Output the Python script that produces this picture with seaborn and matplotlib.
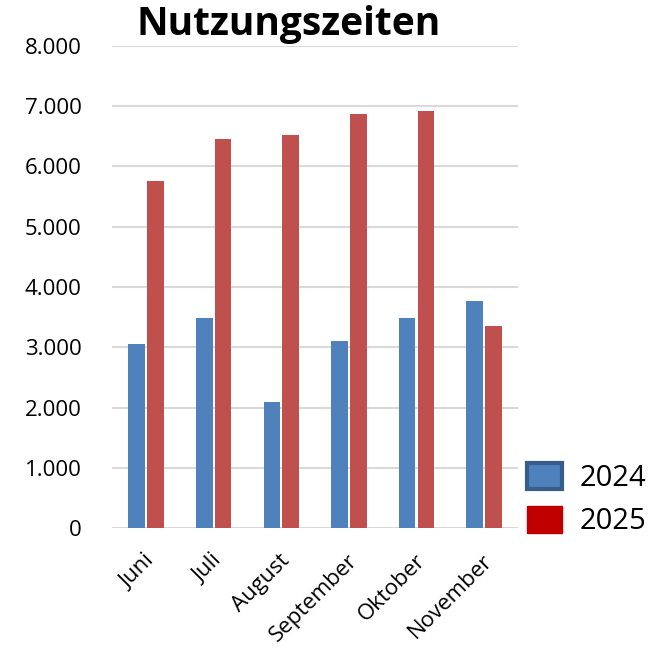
import numpy as np
import pandas as pd
import matplotlib.pyplot as plt
import matplotlib.ticker as mticker
from matplotlib.patches import Patch
from matplotlib.transforms import ScaledTranslation
import seaborn as sns

# Daten
monate = ["Juni", "Juli", "August", "September", "Oktober", "November"]
werte_2024 = [3050, 3490, 2090, 3100, 3490, 3770]
werte_2025 = [5760, 6460, 6520, 6870, 6920, 3350]
jahre = ["2024", "2025"]

df = pd.DataFrame({
    "Monat": monate * 2,
    "Wert": werte_2024 + werte_2025,
    "Jahr": [jahre[0]] * len(monate) + [jahre[1]] * len(monate),
})

sns.set_style("white")
plt.rcParams['font.family'] = ['Open Sans', 'DejaVu Sans']
plt.rcParams['text.color'] = 'black'
plt.rcParams['xtick.color'] = 'black'
plt.rcParams['ytick.color'] = 'black'

fig = plt.figure(figsize=(6.6, 6.56), dpi=100)
ax = fig.add_axes([0.17, 0.195, 0.615, 0.735])

sns.barplot(data=df, x="Monat", y="Wert", hue="Jahr",
            palette={"2024": "#4F81BD", "2025": "#C0504D"}, saturation=1,
            width=0.56, gap=0.12, linewidth=0, ax=ax, legend=False)

ax.set_ylim(0, 8000)
ax.set_xlim(-0.5, len(monate) - 0.5)
ax.yaxis.set_major_locator(mticker.MultipleLocator(1000))
ax.yaxis.set_major_formatter(mticker.FuncFormatter(lambda v, p: f"{int(v):,}".replace(",", ".")))
ax.grid(axis="y", color="#D9D9D9", linewidth=1.5)
ax.set_axisbelow(True)
for s in ax.spines.values():
    s.set_visible(False)
ax.set_xlabel("")
ax.set_ylabel("")
ax.tick_params(axis="y", labelsize=16, length=0, pad=22, labelcolor="black")
ax.tick_params(axis="x", labelsize=16, length=0, pad=16, labelcolor="black")
offset = ScaledTranslation(-2 / 100, 0, fig.dpi_scale_trans)
for lab in ax.get_xticklabels():
    lab.set_rotation(45)
    lab.set_ha("right")
    lab.set_rotation_mode("anchor")
    lab.set_transform(lab.get_transform() + offset)

fig.text(0.438, 0.962, "Nutzungszeiten", ha="center", va="center",
         fontsize=28, fontweight="bold", color="black")

handles = [Patch(facecolor="#4F81BD", edgecolor="#385D8A", linewidth=3, label="2024"),
           Patch(facecolor="#C00000", edgecolor="#C00000", label="2025")]
fig.legend(handles=handles, loc="center left", bbox_to_anchor=(0.777, 0.238),
           frameon=False, fontsize=21, handlelength=1.2, handleheight=1.0,
           handletextpad=0.6, labelspacing=0.45, borderpad=0)

fig.savefig("out.png", dpi=100)
